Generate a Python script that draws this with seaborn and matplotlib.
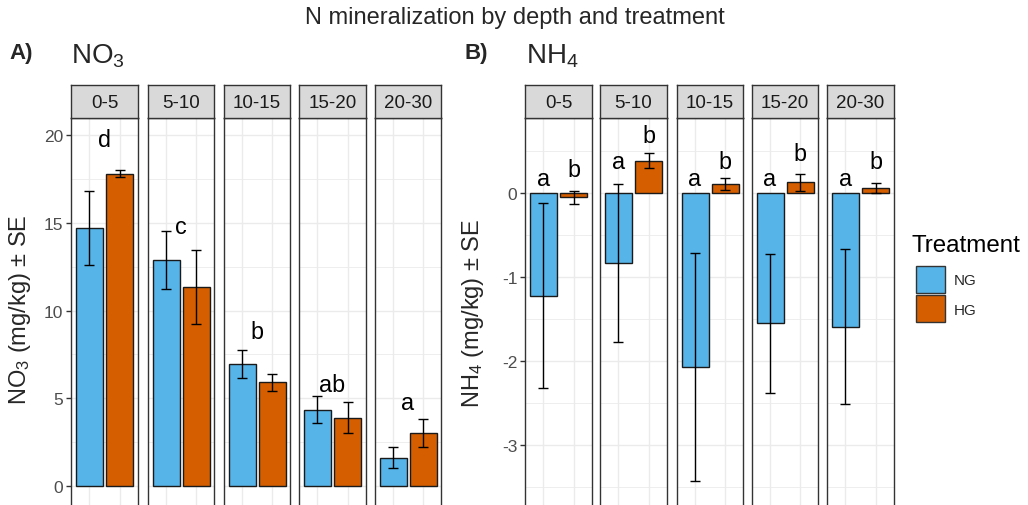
import numpy as np
import pandas as pd
import matplotlib
matplotlib.use("Agg")
import matplotlib.pyplot as plt
from matplotlib.patches import Patch
import seaborn as sns

sns.set_theme(style="white")
plt.rcParams['font.family'] = ['Liberation Sans', 'DejaVu Sans']
plt.rcParams['mathtext.fontset'] = 'custom'
plt.rcParams['mathtext.rm'] = 'Liberation Sans'
plt.rcParams['mathtext.it'] = 'Liberation Sans:italic'
plt.rcParams['mathtext.bf'] = 'Liberation Sans:bold'

# ---------------- data ----------------
depths = ["0-5", "5-10", "10-15", "15-20", "20-30"]
treatments = ["NG", "HG"]
colors = ["#56B4E9", "#D55E00"]

no3_ng = [14.7, 12.9, 6.95, 4.35, 1.6]
no3_hg = [17.8, 11.35, 5.9, 3.9, 3.0]
no3_ng_se = [2.1, 1.65, 0.8, 0.75, 0.6]
no3_hg_se = [0.2, 2.1, 0.5, 0.9, 0.8]
no3_letters = ["d", "c", "b", "ab", "a"]
no3_letter_y = [19.37, 14.4, 8.42, 5.43, 4.39]

nh4_ng = [-1.22, -0.83, -2.07, -1.55, -1.59]
nh4_hg = [-0.05, 0.39, 0.11, 0.13, 0.06]
nh4_ng_se = [1.1, 0.94, 1.36, 0.83, 0.92]
nh4_hg_se = [0.08, 0.09, 0.07, 0.10, 0.06]
nh4_letters_ng = ["a", "a", "a", "a", "a"]
nh4_letters_hg = ["b", "b", "b", "b", "b"]
nh4_letter_ng_y = [0.10, 0.30, 0.10, 0.10, 0.10]
nh4_letter_hg_y = [0.21, 0.61, 0.30, 0.40, 0.30]

W, H = 1028, 506
fig = plt.figure(figsize=(W / 100, H / 100), dpi=100)


def px_axes(x0, x1, y0, y1):
    """y0 top, y1 bottom in pixel coords from top."""
    return fig.add_axes([x0 / W, (H - y1) / H, (x1 - x0) / W, (y1 - y0) / H])


def make_df(ng, hg, ng_se, hg_se):
    rows = []
    for i, d in enumerate(depths):
        rows.append(dict(Depth=d, Treatment="NG", value=ng[i], se=ng_se[i]))
        rows.append(dict(Depth=d, Treatment="HG", value=hg[i], se=hg_se[i]))
    return pd.DataFrame(rows)


df_no3 = make_df(no3_ng, no3_hg, no3_ng_se, no3_hg_se)
df_nh4 = make_df(nh4_ng, nh4_hg, nh4_ng_se, nh4_hg_se)

A_x = [(71, 138), (148, 214), (224, 290), (299, 366), (375, 441)]
B_x = [(525, 592), (600, 667), (677, 743), (752, 818), (827, 894)]
top, bottom = 119, 512
strip_top = 86

A_ylim = ((487 - bottom) / 17.55, (487 - top) / 17.55)
B_ylim = (-(bottom - 194.3) / 83.8, (194.3 - top) / 83.8)

grid_c = "#EBEBEB"
border_c = "#333333"
tick_c = "#4D4D4D"


def draw_panel(df, xs, ylim, major, minor, letters_fn, first_label):
    for k, d in enumerate(depths):
        x0, x1 = xs[k]
        ax = px_axes(x0, x1, top, bottom)
        sub = df[df.Depth == d]
        ax.set_axisbelow(True)
        sns.barplot(data=sub, x="Treatment", y="value", hue="Treatment",
                    order=treatments, hue_order=treatments, palette=colors,
                    saturation=1, width=0.9, edgecolor="#1a1a1a", linewidth=1.0,
                    errorbar=None, legend=False, ax=ax, zorder=2)
        pos = np.arange(len(treatments))
        ax.errorbar(pos, sub.value.values, yerr=sub.se.values, fmt="none",
                    ecolor="black", elinewidth=1.0, capsize=3.5,
                    capthick=1.0, zorder=3)
        letters_fn(ax, k)
        ax.set_xlim(-0.6, 1.6)
        ax.set_ylim(*ylim)
        ax.set_yticks(major)
        ax.set_yticks(minor, minor=True)
        ax.set_xticks(pos)
        ax.grid(True, which="major", color=grid_c, linewidth=1.0)
        ax.grid(True, which="minor", axis="y", color=grid_c, linewidth=0.6)
        ax.set_xlabel("")
        ax.set_ylabel("")
        ax.tick_params(axis="x", length=0, labelbottom=False)
        ax.tick_params(axis="y", which="minor", length=0)
        if k == 0:
            ax.set_yticklabels([first_label(v) for v in major])
            ax.tick_params(axis="y", which="major", length=3.5, width=1,
                           color="#333333", labelsize=12.5, labelcolor=tick_c,
                           pad=2, left=True)
        else:
            ax.tick_params(axis="y", which="major", length=0, labelleft=False)
        for s in ax.spines.values():
            s.set_color(border_c)
            s.set_linewidth(1.0)
        # strip
        sax = px_axes(x0, x1, strip_top, top)
        sax.set_facecolor("#D9D9D9")
        sax.set_xticks([])
        sax.set_yticks([])
        for s in sax.spines.values():
            s.set_color(border_c)
            s.set_linewidth(1.0)
        sax.text(0.5, 0.47, d, ha="center", va="center", fontsize=13.5,
                 color="#1A1A1A", transform=sax.transAxes)


def no3_letters_fn(ax, k):
    ax.text(0.5, no3_letter_y[k], no3_letters[k], ha="center",
            va="baseline", fontsize=16.8, color="black")


def nh4_letters_fn(ax, k):
    ax.text(0, nh4_letter_ng_y[k], nh4_letters_ng[k], ha="center",
            va="baseline", fontsize=16.8, color="black")
    ax.text(1, nh4_letter_hg_y[k], nh4_letters_hg[k], ha="center",
            va="baseline", fontsize=16.8, color="black")


draw_panel(df_no3, A_x, A_ylim, [0, 5, 10, 15, 20], [2.5, 7.5, 12.5, 17.5],
           no3_letters_fn, lambda v: f"{v:g}")
draw_panel(df_nh4, B_x, B_ylim, [-3, -2, -1, 0], [-3.5, -2.5, -1.5, -0.5, 0.5],
           nh4_letters_fn, lambda v: f"{v:g}")

# titles and labels
fig.text(515 / W, 1 - 18 / H, "N mineralization by depth and treatment",
         ha="center", va="center", fontsize=17)
fig.text(9 / W, 1 - 54 / H, "A)", ha="left", va="center", fontsize=16,
         fontweight="bold")
fig.text(71 / W, 1 - 56 / H, r"NO$_3$", ha="left", va="center", fontsize=20)
fig.text(464 / W, 1 - 54 / H, "B)", ha="left", va="center", fontsize=16,
         fontweight="bold")
fig.text(526 / W, 1 - 56 / H, r"NH$_4$", ha="left", va="center", fontsize=20)

fig.text(20 / W, 1 - 310 / H, r"NO$_3$ (mg/kg) ± SE", rotation=90,
         ha="center", va="center", fontsize=17)
fig.text(473 / W, 1 - 313 / H, r"NH$_4$ (mg/kg) ± SE", rotation=90,
         ha="center", va="center", fontsize=17)

# legend (title drawn separately to control the gap)
fig.text(912 / W, 1 - 252 / H, "Treatment", ha="left", va="baseline",
         fontsize=17.4, color="black")
handles = [Patch(facecolor=c, edgecolor="#333333", linewidth=1.0) for c in colors]
leg = fig.legend(handles, treatments,
                 loc="upper left", bbox_to_anchor=(905 / W, 1 - 256 / H),
                 frameon=False, fontsize=11,
                 handlelength=1.9, handleheight=2.34, labelspacing=0.18,
                 handletextpad=0.6, borderpad=0.2)

fig.savefig("out.png", dpi=100, facecolor="white")
